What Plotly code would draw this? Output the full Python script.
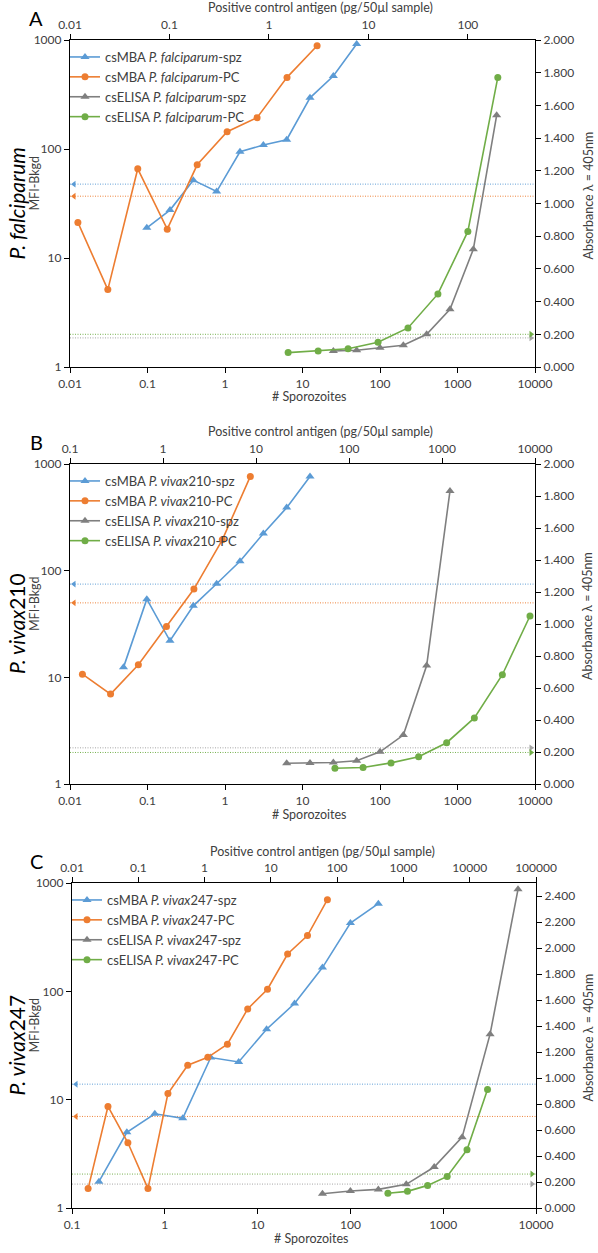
import plotly.graph_objects as go

W, H = 598, 1253

# ---------------- Data ----------------
# Panel A : P. falciparum
a_mba_spz_x = [0.098, 0.195, 0.39, 0.78, 1.56, 3.125, 6.25, 12.5, 25, 50]
a_mba_spz_y = [18.9, 27.5, 51.8, 40.7, 94.4, 108.6, 121.6, 295, 467, 919]
a_mba_pc_x = [0.012, 0.024, 0.048, 0.095, 0.19, 0.38, 0.76, 1.52, 3.05]
a_mba_pc_y = [21.2, 5.13, 65.8, 18.4, 71.6, 143.9, 193.7, 454, 887]
a_elisa_spz_x = [25, 50, 100, 200, 400, 800, 1600, 3200]
a_elisa_spz_y = [0.098, 0.102, 0.118, 0.133, 0.200, 0.353, 0.720, 1.539]
a_elisa_pc_x = [1.56, 3.125, 6.25, 12.5, 25, 50, 100, 200]
a_elisa_pc_y = [0.088, 0.098, 0.112, 0.151, 0.239, 0.447, 0.829, 1.771]
a_cut_mba_spz, a_cut_mba_pc = 47.6, 36.9
a_cut_elisa_spz, a_cut_elisa_pc = 0.178, 0.200

# Panel B : P. vivax210
b_mba_spz_x = [0.049, 0.098, 0.195, 0.39, 0.78, 1.56, 3.125, 6.25, 12.5]
b_mba_spz_y = [12.4, 54.1, 22.0, 46.8, 75.4, 122.4, 223, 390, 765]
b_mba_pc_x = [0.136, 0.273, 0.543, 1.09, 2.15, 4.34, 8.69]
b_mba_pc_y = [10.7, 6.96, 13.1, 29.9, 67.2, 194.5, 765]
b_elisa_spz_x = [6.25, 12.5, 25, 50, 100, 200, 400, 800]
b_elisa_spz_y = [0.130, 0.132, 0.134, 0.145, 0.201, 0.306, 0.740, 1.832]
b_elisa_pc_x = [70.6, 141.7, 283, 561, 1122, 2228, 4457, 8831]
b_elisa_pc_y = [0.0985, 0.103, 0.132, 0.170, 0.258, 0.413, 0.683, 1.050]
b_cut_mba_spz, b_cut_mba_pc = 74.8, 49.9
b_cut_elisa_spz, b_cut_elisa_pc = 0.226, 0.197

# Panel C : P. vivax247
c_mba_spz_x = [0.195, 0.39, 0.78, 1.56, 3.125, 6.25, 12.5, 25, 50, 100, 200]
c_mba_spz_y = [1.75, 4.99, 7.41, 6.72, 24.5, 22.3, 44.7, 77.1, 165.6, 427.6, 644]
c_mba_pc_x = [0.0175, 0.0349, 0.0697, 0.140, 0.28, 0.557, 1.12, 2.21, 4.47, 8.9, 17.9, 35.7, 71.3]
c_mba_pc_y = [1.51, 8.65, 4.0, 1.51, 11.4, 20.8, 24.6, 32.5, 68.8, 104.5, 221, 327, 702]
c_elisa_spz_x = [50, 100, 200, 400, 800, 1600, 3200, 6400]
c_elisa_spz_y = [0.110, 0.131, 0.143, 0.182, 0.315, 0.545, 1.337, 2.451]
c_elisa_pc_x = [583, 1151, 2319, 4571, 9107, 18570]
c_elisa_pc_y = [0.113, 0.128, 0.174, 0.243, 0.448, 0.912]
c_cut_mba_spz, c_cut_mba_pc = 13.9, 7.0
c_cut_elisa_spz, c_cut_elisa_pc = 0.184, 0.261

# Tick labels
left_ticks = ["1", "10", "100", "1000"]
a_bottom_ticks = ["0.01", "0.1", "1", "10", "100", "1000", "10000"]
a_top_ticks = ["0.01", "0.1", "1", "10", "100"]
b_bottom_ticks = ["0.01", "0.1", "1", "10", "100", "1000", "10000"]
b_top_ticks = ["0.1", "1", "10", "100", "1000", "10000"]
c_bottom_ticks = ["0.1", "1", "10", "100", "1000", "10000"]
c_top_ticks = ["0.01", "0.1", "1", "10", "100", "1000", "10000", "100000"]

species = ["<i>P. falciparum</i>", "<i>P. vivax</i>210", "<i>P. vivax</i>247"]
letters = ["A", "B", "C"]

# ---------------- Styling ----------------
FONT = "Lato"
TXT = "#404040"
BLUE, ORANGE, GRAY, GREEN = "#5B9BD5", "#ED7D31", "#7F7F7F", "#70AD47"

# pixel layout of each panel: (left, right, top, bottom)
boxes = [(70, 535, 40, 367), (70, 535, 464, 784), (72, 536, 883, 1208)]
ranges = [
    dict(bx=[-2, 4], tx=[-2, 2.675], ry=[0, 2.0], rt=2.0),
    dict(bx=[-2, 4], tx=[-1, 4], ry=[0, 2.0], rt=2.0),
    dict(bx=[-1, 4], tx=[-2, 5], ry=[0, 2.5], rt=2.4),
]

panels = [
    dict(sp=species[0], lt=letters[0], bt=a_bottom_ticks, tt=a_top_ticks,
         ms=(a_mba_spz_x, a_mba_spz_y), mp=(a_mba_pc_x, a_mba_pc_y),
         es=(a_elisa_spz_x, a_elisa_spz_y), ep=(a_elisa_pc_x, a_elisa_pc_y),
         cms=a_cut_mba_spz, cmp=a_cut_mba_pc, ces=a_cut_elisa_spz, cep=a_cut_elisa_pc),
    dict(sp=species[1], lt=letters[1], bt=b_bottom_ticks, tt=b_top_ticks,
         ms=(b_mba_spz_x, b_mba_spz_y), mp=(b_mba_pc_x, b_mba_pc_y),
         es=(b_elisa_spz_x, b_elisa_spz_y), ep=(b_elisa_pc_x, b_elisa_pc_y),
         cms=b_cut_mba_spz, cmp=b_cut_mba_pc, ces=b_cut_elisa_spz, cep=b_cut_elisa_pc),
    dict(sp=species[2], lt=letters[2], bt=c_bottom_ticks, tt=c_top_ticks,
         ms=(c_mba_spz_x, c_mba_spz_y), mp=(c_mba_pc_x, c_mba_pc_y),
         es=(c_elisa_spz_x, c_elisa_spz_y), ep=(c_elisa_pc_x, c_elisa_pc_y),
         cms=c_cut_mba_spz, cmp=c_cut_mba_pc, ces=c_cut_elisa_spz, cep=c_cut_elisa_pc),
]


def px(x):
    return x / W


def py(y):
    return 1 - y / H


fig = go.Figure()
layout = dict(
    width=W, height=H, margin=dict(l=0, r=0, t=0, b=0, autoexpand=False),
    paper_bgcolor="white", plot_bgcolor="white",
    font=dict(family=FONT, size=12, color=TXT),
    annotations=[], showlegend=True,
)

axis_common = dict(showline=True, linecolor="black", linewidth=1.2, ticks="outside",
                   ticklen=5, tickcolor="black", showgrid=False, zeroline=False,
                   automargin=False,
                   tickfont=dict(family=FONT, size=12, color=TXT))


def note(text, x, y, size, color=TXT, angle=0):
    return dict(text=text, x=px(x), y=py(y), xref="paper", yref="paper",
                xanchor="center", yanchor="middle", showarrow=False, textangle=angle,
                font=dict(size=size, color=color, family=FONT))


for i, p in enumerate(panels):
    l, r, t, b = boxes[i]
    rg = ranges[i]
    n = 4 * i
    xb, xt, yl, yr = n + 1, n + 2, n + 1, n + 2
    xd = [px(l), px(r)]
    yd = [py(b), py(t)]
    bvals = [float(v) for v in p["bt"]]
    tvals = [float(v) for v in p["tt"]]
    layout[f"xaxis{xb}"] = dict(axis_common, type="log", range=rg["bx"], domain=xd,
                                anchor=f"y{yl}", side="bottom",
                                tickvals=bvals, ticktext=p["bt"])
    layout[f"xaxis{xt}"] = dict(axis_common, type="log", range=rg["tx"], domain=xd,
                                anchor=f"y{yl}", side="top", overlaying=f"x{xb}",
                                tickvals=tvals, ticktext=p["tt"])
    layout[f"yaxis{yl}"] = dict(axis_common, type="log", range=[0, 3], domain=yd,
                                anchor=f"x{xb}", side="left",
                                tickvals=[float(v) for v in left_ticks], ticktext=left_ticks)
    rticks = []
    v = 0.0
    while v <= rg["rt"] + 1e-9:
        rticks.append(round(v, 3))
        v += 0.2
    layout[f"yaxis{yr}"] = dict(axis_common, type="linear", range=rg["ry"], domain=yd,
                                anchor=f"x{xb}", side="right", overlaying=f"y{yl}",
                                tickvals=rticks, ticktext=[f"{t_:.3f}" for t_ in rticks])

    leg = "legend" if i == 0 else f"legend{i + 1}"
    ax = lambda k: ("x" if k == 1 else f"x{k}")
    ay = lambda k: ("y" if k == 1 else f"y{k}")
    spname = p["sp"]

    # cutoff lines with arrowheads touching the axes (4 px inside the frame)
    x_ends = [10 ** rg["bx"][0], 10 ** rg["bx"][1]]
    dec_px = (r - l) / (rg["bx"][1] - rg["bx"][0])
    arrow_x = [10 ** (rg["bx"][0] + 4 / dec_px), 10 ** (rg["bx"][1] - 4 / dec_px)]
    cut_specs = [
        (p["cms"], ay(yl), BLUE, "triangle-left", 0, "rgba(91,155,213,0.95)"),
        (p["cmp"], ay(yl), ORANGE, "triangle-left", 0, "rgba(237,125,49,0.95)"),
        (p["ces"], ay(yr), "#A5A5A5", "triangle-right", 1, "rgba(160,160,160,0.95)"),
        (p["cep"], ay(yr), GREEN, "triangle-right", 1, "rgba(112,173,71,0.95)"),
    ]
    for val, yaxis_name, col, sym, end, lcol in cut_specs:
        fig.add_trace(go.Scatter(
            x=x_ends, y=[val, val], xaxis=ax(xb), yaxis=yaxis_name,
            mode="lines", line=dict(color=lcol, width=1, dash="1px,1.5px"),
            showlegend=False, hoverinfo="skip", cliponaxis=False))
        fig.add_trace(go.Scatter(
            x=[arrow_x[end]], y=[val], xaxis=ax(xb), yaxis=yaxis_name,
            mode="markers", marker=dict(symbol=sym, size=6, color=col),
            showlegend=False, hoverinfo="skip", cliponaxis=False))

    series = [
        (p["ms"], ax(xb), ay(yl), BLUE, "triangle-up", f"csMBA {spname}-spz"),
        (p["mp"], ax(xt), ay(yl), ORANGE, "circle", f"csMBA {spname}-PC"),
        (p["es"], ax(xb), ay(yr), GRAY, "triangle-up", f"csELISA {spname}-spz"),
        (p["ep"], ax(xt), ay(yr), GREEN, "circle", f"csELISA {spname}-PC"),
    ]
    for k, ((xs, ys), xa, ya, col, sym, name) in enumerate(series):
        fig.add_trace(go.Scatter(
            x=xs, y=ys, xaxis=xa, yaxis=ya, name=name, legend=leg,
            legendgroup=f"g{i}{k}",
            mode="lines+markers", line=dict(color=col, width=1.6),
            marker=dict(symbol=sym, size=7 if sym == "circle" else 8, color=col),
            cliponaxis=False))

    layout[leg] = dict(x=px(l - 5), y=py(t + 2), xanchor="left", yanchor="top",
                       bgcolor="rgba(0,0,0,0)", borderwidth=0, itemwidth=30,
                       font=dict(family=FONT, size=13, color=TXT),
                       tracegroupgap=0)

    cx = (l + r) / 2
    cy = (t + b) / 2
    ann = layout["annotations"]
    ann.append(note(p["lt"], 36, t - 22, 20, color="black"))
    ann.append(note("Positive control antigen (pg/50µl sample)", cx + 18, t - 32, 12.5))
    ann.append(note("# Sporozoites", cx + 7, b + 30, 12.5))
    ann.append(note(spname, 16, cy, 21, color="black", angle=-90))
    ann.append(note("MFI-Bkgd", 34, cy - 20, 12.5, angle=-90))
    ann.append(note("Absorbance λ = 405nm", 588, cy - 8, 12.5, angle=-90))

fig.update_layout(**layout)
# remove the default page margin so the 598x1253 figure fills the window exactly
fig.write_html("out.html",
               config={"displayModeBar": False},
               post_script="document.body.style.margin='0';"
                           "document.body.style.overflow='hidden';")
